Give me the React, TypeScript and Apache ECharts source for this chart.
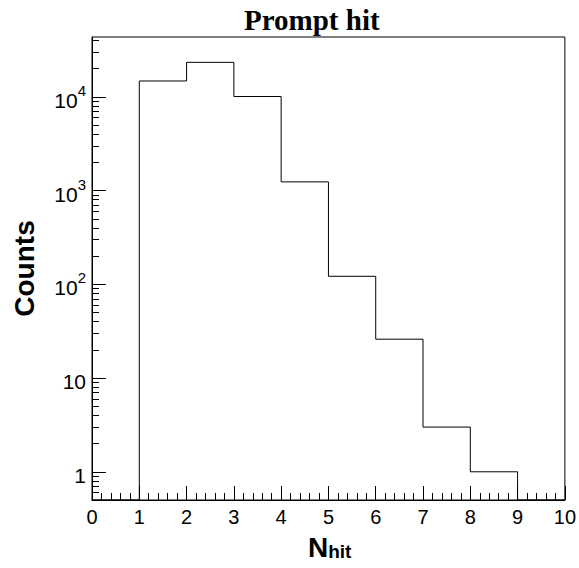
import React, { useEffect, useRef } from "react";
import * as echarts from "echarts";

const binEdges = [0, 1, 2, 3, 4, 5, 6, 7, 8, 9, 10];
const counts = [0, 14800, 23400, 10100, 1240, 122, 26, 3, 1, 0];
const xTickLabels = ["0", "1", "2", "3", "4", "5", "6", "7", "8", "9", "10"];
const yMajorTicks = [1, 10, 100, 1000, 10000];
const Y_MIN = 0.5;
const Y_MAX = 43600;

export default function App() {
  const ref = useRef<HTMLDivElement>(null);
  useEffect(() => {
    if (!ref.current) return;
    const chart = echarts.init(ref.current, null, { renderer: "svg" });

    // Step outline built from bin edges and counts
    const pts: [number, number][] = [];
    for (let i = 0; i < counts.length; i++) {
      const c = counts[i] > 0 ? counts[i] : Y_MIN;
      pts.push([binEdges[i], c]);
      pts.push([binEdges[i + 1], c]);
    }

    const yMinor: number[] = [];
    for (let d = 0.1; d <= 10000; d *= 10) {
      for (let m = 2; m <= 9; m++) {
        const v = Math.round(m * d * 1000) / 1000;
        if (v >= Y_MIN && v <= Y_MAX) yMinor.push(v);
      }
    }

    const black = "#000";
    const font = "'Liberation Sans', Arial, Helvetica, sans-serif";

    chart.setOption({
      animation: false,
      backgroundColor: "#fff",
      title: {
        text: "Prompt hit",
        left: 239,
        top: 0,
        textStyle: {
          fontFamily: "'Liberation Serif', 'Times New Roman', serif",
          fontWeight: "bold",
          fontSize: 29,
          color: black,
        },
      },
      grid: {
        left: 92,
        right: 13,
        top: 37,
        bottom: 68,
        show: true,
        borderColor: black,
        borderWidth: 1,
        backgroundColor: "transparent",
      },
      xAxis: {
        type: "value",
        min: 0,
        max: 10,
        interval: 1,
        axisLine: { show: true, onZero: false, lineStyle: { color: black, width: 1 } },
        axisTick: { show: true, inside: true, length: 14, lineStyle: { color: black } },
        minorTick: { show: true, splitNumber: 5, length: 7, lineStyle: { color: black } },
        splitLine: { show: false },
        axisLabel: {
          color: black,
          fontFamily: font,
          fontSize: 20,
          margin: 7,
          formatter: (v: number) => xTickLabels[Math.round(v)] ?? "",
        },
      },
      yAxis: [
        {
          type: "log",
          logBase: 10,
          min: Y_MIN,
          max: Y_MAX,
          axisLine: { show: true, lineStyle: { color: black, width: 1 } },
          axisTick: {
            show: true,
            inside: true,
            length: 14,
            customValues: yMajorTicks,
            lineStyle: { color: black },
          },
          splitLine: { show: false },
          axisLabel: {
            customValues: yMajorTicks,
            margin: 6,
            color: black,
            fontFamily: font,
            fontSize: 21,
            formatter: (v: number) => {
              const e = Math.round(Math.log10(v));
              if (e === 0) return "{b|1}";
              if (e === 1) return "{b|10}";
              return "{b|10}{s|" + e + "}";
            },
            rich: {
              b: { fontSize: 21, fontFamily: font, color: black, lineHeight: 28, verticalAlign: "bottom" },
              s: { fontSize: 15, fontFamily: font, color: black, lineHeight: 15, verticalAlign: "top" },
            },
          },
          name: "Counts",
          nameLocation: "middle",
          nameRotate: 90,
          nameGap: 54,
          nameTextStyle: {
            fontFamily: font,
            fontWeight: "bold",
            fontSize: 28,
            color: black,
          },
        },
        {
          type: "log",
          logBase: 10,
          min: Y_MIN,
          max: Y_MAX,
          position: "left",
          axisLine: { show: false },
          axisTick: {
            show: true,
            inside: true,
            length: 7,
            customValues: yMinor,
            lineStyle: { color: black },
          },
          splitLine: { show: false },
          axisLabel: { show: false },
        },
      ],
      graphic: [
        {
          type: "text",
          left: 308,
          top: 533,
          style: {
            text: "{n|N}{s|hit}",
            rich: {
              n: { fontSize: 28, fontWeight: "bold", fontFamily: font, fill: black, lineHeight: 28, verticalAlign: "top", padding: [0, 0, 8, 0] },
              s: { fontSize: 19, fontWeight: "bold", fontFamily: font, fill: black, lineHeight: 19, verticalAlign: "bottom" },
            },
          },
        },
      ],
      series: [
        {
          type: "line",
          data: pts,
          showSymbol: false,
          symbol: "none",
          clip: true,
          lineStyle: { color: black, width: 1 },
          itemStyle: { color: black },
          yAxisIndex: 0,
        },
      ],
    });
    return () => chart.dispose();
  }, []);
  return (
    <div
      ref={ref}
      style={{ position: "fixed", left: 0, top: 0, width: 579, height: 568, background: "#fff" }}
    />
  );
}
